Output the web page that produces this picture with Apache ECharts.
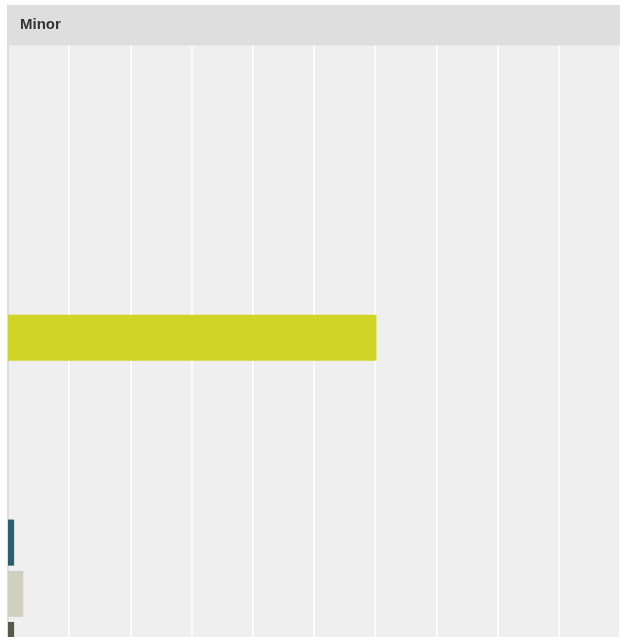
<!DOCTYPE html>
<html>
<head>
<meta charset="utf-8">
<script src="https://cdn.jsdelivr.net/npm/echarts@6/dist/echarts.min.js"></script>
<style>html,body{margin:0;padding:0;background:#fff;overflow:hidden;}#c{width:620px;height:671px;}</style>
</head>
<body>
<div id="c"></div>
<script>
// Data (axis labels not shown in reference)
const panelTitle = "Minor";
const categories = ["c1","c2","c3","c4","c5","c6","c7","c8","c9","c10","c11","c12","c13"];
const values =     [null, null, null, null, null, null, 6.02, null, null, null, 0.1, 0.25, 0.1];
const barColors =  ["#cccccc","#cccccc","#cccccc","#cccccc","#cccccc","#cccccc","#cfd426","#cccccc","#cccccc","#cccccc","#2b5f6d","#d0cfc0","#5a5848"];
const xMin = 0, xMax = 10, xInterval = 1;

const chart = echarts.init(document.getElementById('c'), null, {renderer: 'canvas'});
chart.setOption({
  animation: false,
  grid: {left: 8, top: 5, width: 612, height: 665.6, show: true, backgroundColor: '#efefef', borderWidth: 0, containLabel: false},
  xAxis: {
    type: 'value', min: xMin, max: xMax, interval: xInterval,
    axisLine: {show: false}, axisTick: {show: false}, axisLabel: {show: false},
    splitLine: {show: true, lineStyle: {color: '#ffffff', width: 1.5}}
  },
  yAxis: {
    type: 'category', data: categories, inverse: true,
    axisLine: {show: true, lineStyle: {color: '#d4d4d4', width: 1.5}},
    axisTick: {show: false}, axisLabel: {show: false}, splitLine: {show: false}
  },
  series: [{
    type: 'bar', barCategoryGap: '10%',
    data: values.map((v, i) => ({value: v, itemStyle: {color: barColors[i]}}))
  }],
  graphic: [
    {type: 'rect', z: 100, shape: {x: 7, y: 5, width: 613, height: 40.5}, style: {fill: '#dedede'}},
    {type: 'text', z: 101, left: 20, top: 17, style: {text: panelTitle, font: 'bold 15px "Liberation Sans", Arial, sans-serif', fill: '#333333'}}
  ]
});
</script>
</body>
</html>
